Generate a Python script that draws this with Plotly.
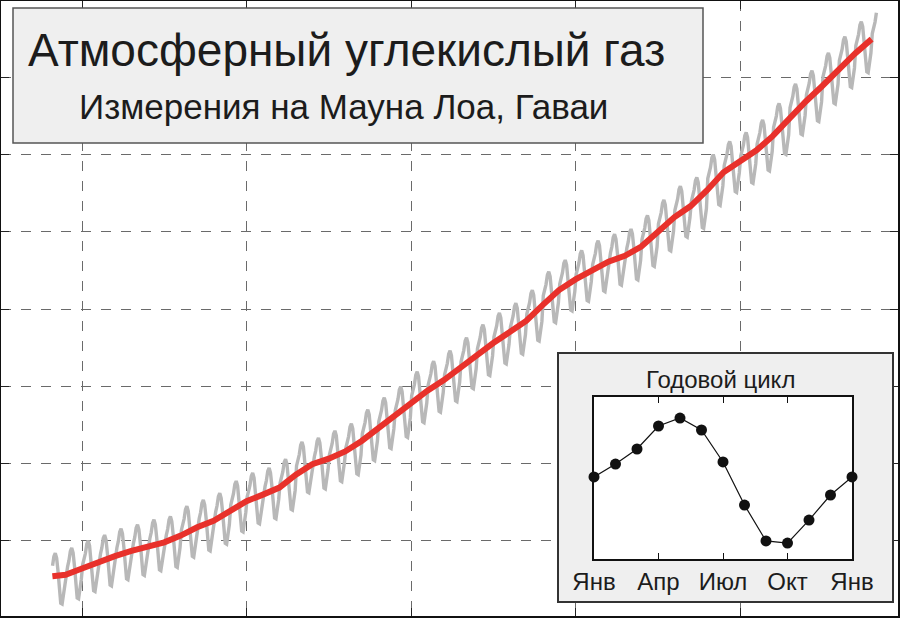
import plotly.graph_objects as go

# ---------------- data ----------------
# annual mean CO2 (ppm) at Mauna Loa, per calendar year
years = list(range(1958, 2009))
annual_mean = [315.30, 315.98, 316.91, 317.64, 318.45, 318.99, 319.62, 320.04, 321.37, 322.18,
               323.05, 324.62, 325.68, 326.32, 327.46, 329.68, 330.19, 331.12, 332.03, 333.84,
               335.41, 336.84, 338.76, 340.12, 341.48, 343.15, 344.85, 346.35, 347.61, 349.31,
               351.69, 353.20, 354.45, 355.70, 356.54, 357.21, 358.96, 360.97, 362.74, 363.88,
               366.84, 368.54, 369.71, 371.32, 373.45, 375.98, 377.70, 379.98, 382.09, 384.02,
               385.60]
# first / last month shown for the partial years
first_month = 3   # March 1958
last_month = 4    # April 2008

# seasonal cycle anomaly (ppm), Jan..Dec
cycle_labels = ["Янв", "Фев", "Мар", "Апр", "Май", "Июн", "Июл", "Авг", "Сен", "Окт", "Ноя", "Дек", "Янв"]
cycle_values = [0.03, 0.71, 1.50, 2.71, 3.13, 2.50, 0.82, -1.45, -3.34, -3.45, -2.24, -0.92, 0.03]
cycle_ticktext = ["Янв", "Апр", "Июл", "Окт", "Янв"]
cycle_tickvals = [0, 3, 6, 9, 12]

# smoothed trend (red), value at the start of each year
trend_years = [1958.2] + list(range(1959, 2009))
trend_ppm = [315.45, 315.64, 316.45, 317.28, 318.05, 318.72, 319.30, 319.83, 320.70, 321.78,
             322.60, 323.80, 325.15, 326.00, 326.90, 328.57, 329.93, 330.65, 331.58, 332.93,
             334.62, 336.12, 337.80, 339.44, 340.80, 342.30, 344.00, 345.60, 346.98, 348.46,
             350.50, 352.45, 353.83, 355.08, 356.12, 356.88, 358.08, 359.96, 361.86, 363.31,
             365.36, 367.69, 369.12, 370.52, 372.38, 374.71, 376.84, 378.84, 381.04, 383.05,
             384.90]

year_grid = [1960, 1970, 1980, 1990, 2000]
ppm_grid = [320, 330, 340, 350, 360, 370, 380]

# monthly series (gray) built from annual means + seasonal anomaly
month_x, month_y = [], []
for yr, base in zip(years, annual_mean):
    for m in range(1, 13):
        if yr == years[0] and m < first_month:
            continue
        if yr == years[-1] and m > last_month:
            continue
        month_x.append(yr + (m - 0.5) / 12.0)
        month_y.append(base + cycle_values[m - 1])

# ---------------- figure ----------------
W, H = 901, 619
FONT = "Liberation Sans, Arial, sans-serif"
TXT = "#1c1c1c"

def px_x(p):   # pixel column -> paper x
    return (p - 1) / 897.0

def px_y(p):   # pixel row -> paper y
    return (616 - p) / 615.0

fig = go.Figure()

fig.add_trace(go.Scatter(x=month_x, y=month_y, mode="lines",
                         line=dict(color="#b8b8b8", width=3.4), xaxis="x", yaxis="y",
                         hoverinfo="skip"))
fig.add_trace(go.Scatter(x=trend_years, y=trend_ppm, mode="lines",
                         line=dict(color="#e8312b", width=6), xaxis="x", yaxis="y",
                         hoverinfo="skip"))

# inset seasonal cycle
fig.add_trace(go.Scatter(x=list(range(len(cycle_values))), y=cycle_values,
                         mode="lines+markers", text=cycle_labels,
                         line=dict(color="#111111", width=1.2),
                         marker=dict(color="#111111", size=11),
                         cliponaxis=False, xaxis="x3", yaxis="y3"))

grid_common = dict(showgrid=True, gridcolor="#6a6a6a", gridwidth=1, griddash="10px,10px",
                   showline=True, linecolor="#111111", linewidth=2, mirror="ticks",
                   ticks="inside", ticklen=8, tickcolor="#222222", tickwidth=1,
                   showticklabels=False, zeroline=False, automargin=False)

fig.update_layout(
    width=W, height=H,
    margin=dict(l=1, r=3, t=1, b=3, pad=0, autoexpand=False),
    paper_bgcolor="white", plot_bgcolor="white",
    showlegend=False,
    font=dict(family=FONT, color=TXT),
    xaxis=dict(range=[1955.076, 2009.605], domain=[0, 1], tickvals=year_grid, **grid_common),
    yaxis=dict(range=[310.3, 389.83], domain=[0, 1], tickvals=ppm_grid, **grid_common),
    # outer panel of the inset
    xaxis2=dict(domain=[px_x(559), px_x(892)], range=[0, 1], anchor="y2", automargin=False,
                showgrid=False, zeroline=False, showticklabels=False, ticks="",
                showline=True, mirror=True, linecolor="#333333", linewidth=2),
    yaxis2=dict(domain=[px_y(601), px_y(354)], range=[0, 1], anchor="x2", automargin=False,
                showgrid=False, zeroline=False, showticklabels=False, ticks="",
                showline=True, mirror=True, linecolor="#333333", linewidth=2),
    # inner plot of the inset
    xaxis3=dict(domain=[px_x(594), px_x(852)], range=[0, 12], anchor="y3", automargin=False,
                tickvals=cycle_tickvals, ticktext=cycle_ticktext,
                ticks="inside", ticklen=6, tickcolor="#111111", mirror="ticks",
                showline=True, linecolor="#111111", linewidth=1.5,
                showgrid=False, zeroline=False,
                tickfont=dict(size=24, color=TXT, family=FONT)),
    yaxis3=dict(domain=[px_y(559), px_y(397)], range=[-4.289, 4.237], anchor="x3", automargin=False,
                showticklabels=False, ticks="", showgrid=False, zeroline=False,
                showline=True, mirror=True, linecolor="#111111", linewidth=1.5),
)

fig.add_trace(go.Scatter(x=[None], y=[None], xaxis="x2", yaxis="y2", hoverinfo="skip"))

fig.add_shape(type="rect", xref="x2", yref="y2", x0=0, x1=1, y0=0, y1=1,
              fillcolor="#efefef", line=dict(width=0), layer="below")

# title panel
fig.add_shape(type="rect", xref="paper", yref="paper",
              x0=px_x(13), x1=px_x(703), y0=px_y(143), y1=px_y(8),
              fillcolor="#efefef", line=dict(color="#555555", width=1.5), layer="above")

fig.add_annotation(text="Атмосферный углекислый газ", xref="paper", yref="paper",
                   x=px_x(26), y=px_y(50), xanchor="left", yanchor="middle",
                   showarrow=False, font=dict(size=46, color=TXT, family=FONT))
fig.add_annotation(text="Измерения на Мауна Лоа, Гаваи", xref="paper", yref="paper",
                   x=px_x(77), y=px_y(106), xanchor="left", yanchor="middle",
                   showarrow=False, font=dict(size=35, color=TXT, family=FONT))
fig.add_annotation(text="Годовой цикл", xref="paper", yref="paper",
                   x=px_x(720), y=px_y(379), xanchor="center", yanchor="middle",
                   showarrow=False, font=dict(size=24, color=TXT, family=FONT))

fig.write_html("out.html", config={"displayModeBar": False},
               post_script="document.body.style.margin='0';document.body.style.overflow='hidden';")
